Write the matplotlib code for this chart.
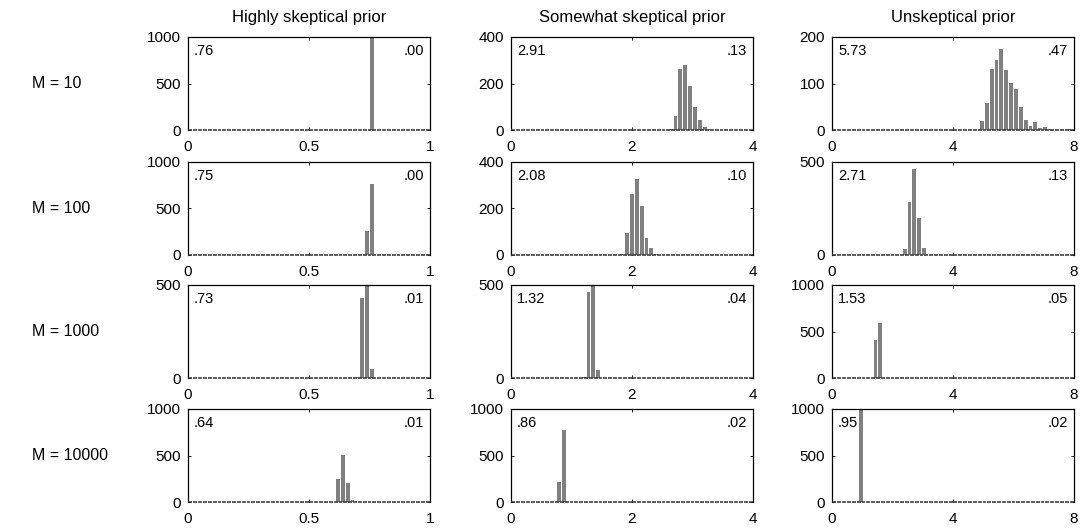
import matplotlib.pyplot as plt

plt.rcParams["font.family"] = ["Liberation Sans", "DejaVu Sans"]

# column titles and row labels
col_titles = ["Highly skeptical prior", "Somewhat skeptical prior", "Unskeptical prior"]
row_labels = ["M = 10", "M = 100", "M = 1000", "M = 10000"]

# histogram bin width / x range per column
bin_width = [0.02, 0.08, 0.16]
x_max = [1, 4, 8]
x_ticks = [[0, 0.5, 1], [0, 2, 4], [0, 4, 8]]
x_ticklabels = [["0", "0.5", "1"], ["0", "2", "4"], ["0", "4", "8"]]

# y max per panel, rows x cols
y_max = [[1000, 400, 200],
         [1000, 400, 500],
         [500, 500, 1000],
         [1000, 1000, 1000]]

# bin centers and counts (non-empty bins), one list per row
highly_centers = [[0.76],
                  [0.74, 0.76, 0.78],
                  [0.70, 0.72, 0.74, 0.76],
                  [0.60, 0.62, 0.64, 0.66, 0.68]]
highly_counts = [[1000],
                 [255, 764, 5],
                 [7, 428, 520, 47],
                 [5, 250, 507, 207, 21]]

somewhat_centers = [[2.64, 2.72, 2.80, 2.88, 2.96, 3.04, 3.12, 3.20, 3.28, 3.36],
                    [1.84, 1.92, 2.00, 2.08, 2.16, 2.24, 2.32, 2.40],
                    [1.20, 1.28, 1.36, 1.44],
                    [0.80, 0.88]]
somewhat_counts = [[4, 62, 262, 280, 190, 101, 42, 14, 6, 2],
                   [5, 93, 262, 327, 209, 74, 28, 6],
                   [8, 464, 493, 42],
                   [218, 775]]

unskept_centers = [[4.96, 5.12, 5.28, 5.44, 5.60, 5.76, 5.92, 6.08, 6.24, 6.40,
                    6.56, 6.72, 6.88, 7.04, 7.20, 7.84],
                   [2.40, 2.56, 2.72, 2.88, 3.04],
                   [1.44, 1.60],
                   [0.96]]
unskept_counts = [[19, 57, 131, 151, 175, 129, 101, 88, 49, 22,
                   9, 18, 5, 6, 2, 2],
                  [31, 285, 464, 198, 35],
                  [411, 593],
                  [1000]]

# posterior mean and sd shown in each panel
means = [[".76", "2.91", "5.73"],
         [".75", "2.08", "2.71"],
         [".73", "1.32", "1.53"],
         [".64", ".86", ".95"]]
sds = [[".00", ".13", ".47"],
       [".00", ".10", ".13"],
       [".01", ".04", ".05"],
       [".01", ".02", ".02"]]

centers = [highly_centers, somewhat_centers, unskept_centers]
counts = [highly_counts, somewhat_counts, unskept_counts]

fig = plt.figure(figsize=(10.81, 5.29), dpi=100)

col_left = [188, 511, 832]
ax_w = 242
row_top = [37, 162, 285, 409]
ax_h = 93
W, H = 1081, 529

for r in range(4):
    for c in range(3):
        ax = fig.add_axes([col_left[c] / W, 1 - (row_top[r] + ax_h) / H, ax_w / W, ax_h / H])
        bw = bin_width[c]
        # every bin leaves a short segment on the baseline (dotted look)
        n_bins = int(round(x_max[c] / bw))
        all_x = [bw * k + bw / 2 for k in range(n_bins)]
        ax.hlines([0] * n_bins, [x - bw * 0.4 for x in all_x], [x + bw * 0.4 for x in all_x],
                  color="#303030", linewidth=1.1, clip_on=False, zorder=3)
        ax.bar(centers[c][r], counts[c][r], width=bw * 0.8, color="#808080",
               edgecolor="none", zorder=2)
        ax.set_xlim(0, x_max[c])
        ax.set_ylim(0, y_max[r][c])
        ax.set_xticks(x_ticks[c])
        ax.set_xticklabels(x_ticklabels[c])
        ym = y_max[r][c]
        if ym == 500:
            ax.set_yticks([0, ym])
        else:
            ax.set_yticks([0, ym // 2, ym])
        ax.tick_params(direction="in", length=2.5, width=0.6, labelsize=11,
                       top=True, right=True)
        ax.tick_params(axis="x", pad=7)
        ax.tick_params(axis="y", pad=5)
        for sp in ax.spines.values():
            sp.set_linewidth(0.9)
        ax.spines["bottom"].set_visible(False)
        ax.text(0.025, 0.93, means[r][c], transform=ax.transAxes,
                ha="left", va="top", fontsize=10.5)
        ax.text(0.975, 0.93, sds[r][c], transform=ax.transAxes,
                ha="right", va="top", fontsize=10.5)
        if r == 0:
            ax.set_title(col_titles[c], fontsize=12, pad=11)
        if c == 0:
            fig.text(32 / W, 1 - (row_top[r] + ax_h / 2) / H, row_labels[r],
                     ha="left", va="center", fontsize=11.5)

plt.savefig("out.png", dpi=100)
